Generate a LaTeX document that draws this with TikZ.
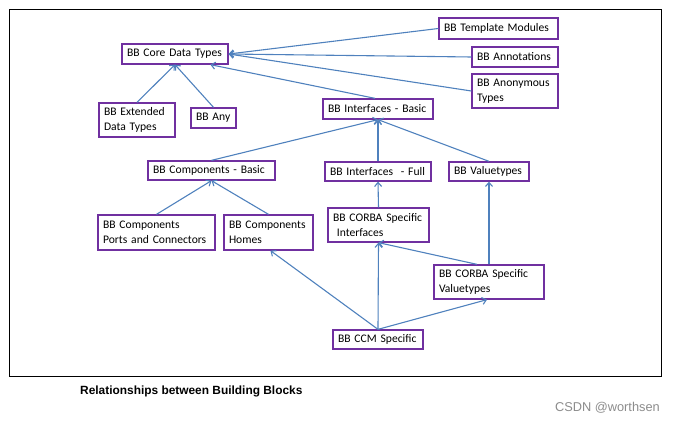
\documentclass[tikz,border=0pt]{standalone}
\usepackage{fontspec}
\setmainfont{Carlito}
\newfontfamily\capfont{Liberation Sans}
\usetikzlibrary{arrows.meta,calc}
\definecolor{boxpurple}{RGB}{112,48,160}
\definecolor{linkblue}{RGB}{79,129,189}
\begin{document}
\begin{tikzpicture}[x=1pt,y=-1pt,
  bb/.style = {draw=boxpurple,line width=1.3pt,inner xsep=5pt,inner ysep=1pt,align=left,
               font=\fontsize{11.6}{15}\selectfont},
  dep/.style = {draw=linkblue,line width=1.1pt,-{Straight Barb[length=4pt,width=7pt]}}]
\useasboundingbox (0,0) rectangle (673,422);
%marco exterior
\draw[line width=0.8pt] (9,9) rectangle (661,376);
\node (core) at (175,54) [bb,text width=96pt,minimum height=20pt] {BB Core Data Types};
\node (tmpl) at (498.5,28.5) [bb,text width=109pt,minimum height=21pt] {BB Template Modules};
\node (annot) at (515,57) [bb,text width=76pt,minimum height=20pt] {BB Annotations};
\node (anon) at (515,91) [bb,text width=76pt,minimum height=34pt] {BB Anonymous\\Types};
\node (ext) at (137,120) [bb,text width=66pt,minimum height=34pt] {BB Extended\\Data Types};
\node (any) at (213.5,118) [bb,text width=35pt,minimum height=20pt] {BB Any};
\node (ifbasic) at (378,109) [bb,text width=100pt,minimum height=20pt] {BB Interfaces - Basic};
\node (compbasic) at (211.5,170.5) [bb,text width=117pt,minimum height=19pt] {BB Components - Basic};
\node (iffull) at (378,171.5) [bb,text width=96pt,minimum height=19pt] {\mbox{BB Interfaces\ \ - Full}};
\node (vt) at (489,171.5) [bb,text width=70pt,minimum height=19pt] {BB Valuetypes};
\node (ports) at (156.5,232.5) [bb,text width=107pt,minimum height=35pt] {BB Components\\Ports and Connectors};
\node (homes) at (268.5,232.5) [bb,text width=79pt,minimum height=35pt] {BB Components\\Homes};
\node (corbaif) at (378.5,225) [bb,text width=91pt,minimum height=34pt] {BB CORBA Specific\\\ Interfaces};
\node (corbavt) at (489,282) [bb,text width=100pt,minimum height=34pt] {BB CORBA Specific\\Valuetypes};
\node (ccm) at (378,339.5) [bb,text width=80pt,minimum height=19pt] {BB CCM Specific};

\draw[dep] (tmpl.west) -- (core.east);
\draw[dep] (annot.west) -- (core.east);
\draw[dep] (anon.west) -- (core.east);
\draw[dep] ($(ifbasic.north)+(-3,0)$) -- ($(core.south)!0.66!(core.south east)$);
\draw[dep] (ext.north) -- (core.south);
\draw[dep] (any.north) -- (core.south);
\draw[dep] (compbasic.north) -- (ifbasic.south);
\draw[dep] (iffull.north) -- (ifbasic.south);
\draw[dep] (vt.north) -- (ifbasic.south);
\draw[dep] (ports.north) -- (compbasic.south);
\draw[dep] (homes.north) -- (compbasic.south);
\draw[dep] (corbaif.north) -- (iffull.south);
\draw[dep] (corbavt.north) -- (vt.south);
\draw[dep] ($(corbavt.north)+(-12,0)$) -- (corbaif.south);
\draw[dep] (ccm.north) -- (corbaif.south);
\draw[dep] (ccm.north) -- ($(corbavt.south)+(-2,0)$);
\draw[dep] (ccm.north) -- ($(homes.south)+(2,0)$);

\node (caption) at (80,391) [anchor=west,inner sep=0pt,font=\capfont\bfseries\fontsize{11.9}{14}\selectfont] {Relationships between Building Blocks};
\node (mark) at (660,408) [anchor=east,inner sep=0pt,text=black!45,font=\capfont\fontsize{12.8}{15}\selectfont] {CSDN @worthsen};
\end{tikzpicture}
\end{document}
